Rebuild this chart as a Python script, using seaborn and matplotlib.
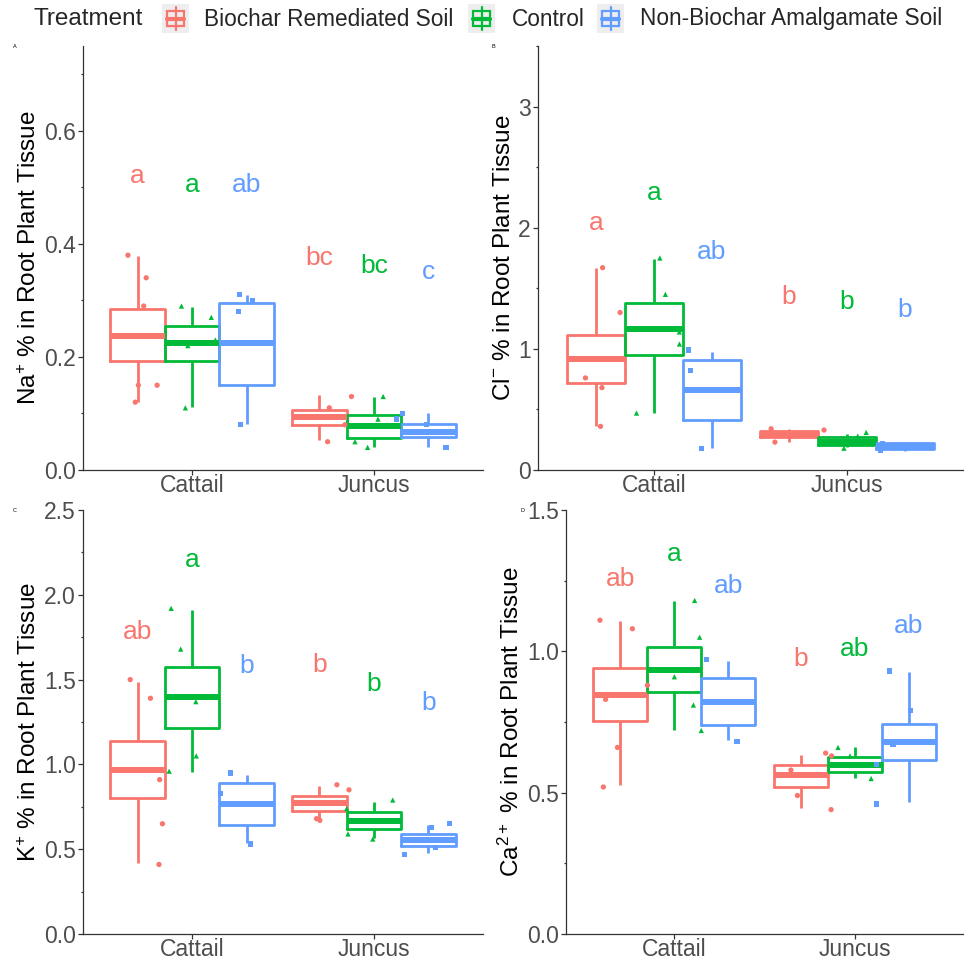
import numpy as np
import pandas as pd
import matplotlib
matplotlib.use("Agg")
import matplotlib.pyplot as plt
from matplotlib.patches import Rectangle
from matplotlib.lines import Line2D
from matplotlib.ticker import FormatStrFormatter, MultipleLocator
import seaborn as sns

# ---------------------------------------------------------------- data
species = ["Cattail", "Juncus"]
treatments = ["Biochar Remediated Soil", "Control", "Non-Biochar Amalgamate Soil"]
palette = ["#F8766D", "#00BA38", "#619CFF"]
markers = ["o", "^", "s"]

# Box summaries per treatment: lower whisker, Q1, median, Q3, upper whisker
na_box = {
    "Cattail": [[0.121, 0.192, 0.237, 0.285, 0.379],
                [0.111, 0.193, 0.224, 0.255, 0.288],
                [0.081, 0.150, 0.224, 0.296, 0.310]],
    "Juncus":  [[0.053, 0.080, 0.094, 0.107, 0.133],
                [0.041, 0.056, 0.077, 0.098, 0.129],
                [0.041, 0.059, 0.068, 0.081, 0.100]],
}
cl_box = {
    "Cattail": [[0.363, 0.716, 0.914, 1.112, 1.666],
                [0.468, 0.950, 1.162, 1.376, 1.740],
                [0.179, 0.413, 0.661, 0.908, 0.977]],
    "Juncus":  [[0.234, 0.275, 0.300, 0.325, 0.340],
                [0.190, 0.210, 0.235, 0.270, 0.300],
                [0.160, 0.175, 0.200, 0.220, 0.230]],
}
k_box = {
    "Cattail": [[0.417, 0.800, 0.967, 1.138, 1.488],
                [0.957, 1.212, 1.395, 1.576, 1.910],
                [0.535, 0.643, 0.767, 0.892, 0.937]],
    "Juncus":  [[0.672, 0.725, 0.770, 0.814, 0.875],
                [0.564, 0.617, 0.666, 0.721, 0.780],
                [0.476, 0.519, 0.554, 0.588, 0.643]],
}
ca_box = {
    "Cattail": [[0.526, 0.755, 0.847, 0.941, 1.108],
                [0.722, 0.855, 0.935, 1.017, 1.179],
                [0.685, 0.738, 0.820, 0.905, 0.967]],
    "Juncus":  [[0.444, 0.520, 0.561, 0.599, 0.635],
                [0.553, 0.573, 0.599, 0.626, 0.661],
                [0.467, 0.614, 0.679, 0.744, 0.926]],
}

# Individual samples
na_pts = {
    "Cattail": [[0.38, 0.34, 0.29, 0.15, 0.15, 0.12],
                [0.29, 0.27, 0.23, 0.22, 0.11],
                [0.31, 0.30, 0.28, 0.08]],
    "Juncus":  [[0.13, 0.11, 0.08, 0.05],
                [0.13, 0.09, 0.05, 0.04],
                [0.10, 0.09, 0.08, 0.04, 0.04]],
}
cl_pts = {
    "Cattail": [[1.67, 1.30, 0.76, 0.68, 0.36],
                [1.75, 1.45, 1.14, 1.04, 0.47],
                [0.99, 0.82, 0.18]],
    "Juncus":  [[0.34, 0.33, 0.29, 0.23],
                [0.31, 0.28, 0.22, 0.18],
                [0.22, 0.19, 0.16]],
}
k_pts = {
    "Cattail": [[1.50, 1.39, 0.91, 0.65, 0.41],
                [1.92, 1.68, 1.37, 1.05, 0.96],
                [0.95, 0.83, 0.53]],
    "Juncus":  [[0.88, 0.85, 0.68, 0.67],
                [0.79, 0.74, 0.59, 0.56],
                [0.65, 0.63, 0.51, 0.47]],
}
ca_pts = {
    "Cattail": [[1.11, 1.08, 0.88, 0.83, 0.66, 0.52],
                [1.18, 1.05, 0.91, 0.81, 0.72],
                [0.97, 0.68]],
    "Juncus":  [[0.64, 0.63, 0.58, 0.49, 0.44],
                [0.66, 0.63, 0.55],
                [0.93, 0.79, 0.67, 0.60, 0.46]],
}

# Compact letter display (Tukey groups) and label heights
na_letters = {"Cattail": ["a", "a", "ab"], "Juncus": ["bc", "bc", "c"]}
na_letter_y = {"Cattail": [0.52, 0.505, 0.505], "Juncus": [0.375, 0.36, 0.35]}
cl_letters = {"Cattail": ["a", "a", "ab"], "Juncus": ["b", "b", "b"]}
cl_letter_y = {"Cattail": [2.04, 2.29, 1.80], "Juncus": [1.43, 1.39, 1.32]}
k_letters = {"Cattail": ["ab", "a", "b"], "Juncus": ["b", "b", "b"]}
k_letter_y = {"Cattail": [1.78, 2.205, 1.58], "Juncus": [1.586, 1.474, 1.362]}
ca_letters = {"Cattail": ["ab", "a", "ab"], "Juncus": ["b", "ab", "ab"]}
ca_letter_y = {"Cattail": [1.257, 1.345, 1.232], "Juncus": [0.974, 1.01, 1.09]}

# ---------------------------------------------------------------- style
sns.set_style("ticks")
plt.rcParams["font.family"] = ["Liberation Sans", "DejaVu Sans"]
plt.rcParams["mathtext.default"] = "regular"

TICK_GREY = "#4D4D4D"
LINE_GREY = "#333333"

W, H = 964, 960
fig = plt.figure(figsize=(W / 100, H / 100), dpi=100)


def long_frame(table):
    rows = [(sp, tr, v)
            for sp in species
            for i, tr in enumerate(treatments)
            for v in table[sp][i]]
    return pd.DataFrame(rows, columns=["Species", "Treatment", "value"])


def draw_panel(rect, box, pts, letters, letter_y, ylabel, top, major, minor, fmt, tag):
    ax = fig.add_axes(rect)
    df_box = long_frame(box)
    df_pts = long_frame(pts)

    sns.boxplot(data=df_box, x="Species", y="value", hue="Treatment",
                order=species, hue_order=treatments, palette=palette,
                fill=False, width=0.9, gap=0, linewidth=2.0,
                whis=(0, 100), showfliers=False, showcaps=False,
                medianprops=dict(linewidth=4.3), legend=False, ax=ax)

    for i, tr in enumerate(treatments):
        sub = df_pts[df_pts["Treatment"] == tr]
        sns.stripplot(data=sub, x="Species", y="value", hue="Treatment",
                      order=species, hue_order=treatments, palette=palette,
                      dodge=True, jitter=0.45, marker=markers[i], size=3.8,
                      linewidth=0, legend=False, zorder=5, ax=ax)

    for j, sp in enumerate(species):
        for i in range(len(treatments)):
            ax.text(j + (i - 1) * 0.3, letter_y[sp][i], letters[sp][i],
                    color=palette[i], fontsize=19, ha="center", va="center")

    ax.set_xlim(-0.6, 1.6)
    ax.set_ylim(0, top)
    ax.yaxis.set_major_locator(MultipleLocator(major))
    ax.yaxis.set_minor_locator(MultipleLocator(minor))
    ax.yaxis.set_major_formatter(FormatStrFormatter(fmt))
    ax.set_xlabel("")
    ax.set_ylabel(ylabel, fontsize=17.5, color="black", labelpad=2)
    sns.despine(ax=ax)
    for side in ("left", "bottom"):
        ax.spines[side].set_color(LINE_GREY)
        ax.spines[side].set_linewidth(0.9)
    ax.tick_params(axis="both", which="major", length=3.6, width=0.9,
                   color=LINE_GREY, labelcolor=TICK_GREY, labelsize=16.5)
    ax.tick_params(axis="y", which="major", pad=1.5)
    ax.tick_params(axis="x", which="major", pad=-1.0)
    ax.tick_params(axis="y", which="minor", length=1.2, width=0.9, color=LINE_GREY)
    ax.set_facecolor("white")
    fig.text(rect[0] - 70 / W if tag in "AC" else rect[0] - 46 / W,
             rect[1] + rect[3], tag, fontsize=4, color="black",
             ha="left", va="center")
    return ax


draw_panel([83 / W, 1 - 470 / H, 400 / W, 424 / H], na_box, na_pts, na_letters,
           na_letter_y, r"Na$^{+}$ % in Root Plant Tissue", 0.75, 0.2, 0.1, "%.1f", "A")
draw_panel([538 / W, 1 - 470 / H, 425 / W, 424 / H], cl_box, cl_pts, cl_letters,
           cl_letter_y, r"Cl$^{-}$ % in Root Plant Tissue", 3.5, 1.0, 0.5, "%.0f", "B")
draw_panel([83 / W, 1 - 934 / H, 400 / W, 424 / H], k_box, k_pts, k_letters,
           k_letter_y, r"K$^{+}$ % in Root Plant Tissue", 2.5, 0.5, 0.25, "%.1f", "C")
draw_panel([566 / W, 1 - 934 / H, 397 / W, 424 / H], ca_box, ca_pts, ca_letters,
           ca_letter_y, r"Ca$^{2+}$ % in Root Plant Tissue", 1.5, 0.5, 0.25, "%.1f", "D")

# ---------------------------------------------------------------- legend
def fx(px):
    return px / W


def fy(py):
    return 1 - py / H


def legend_key(x0, color, kw=27, y0=4, kh=29):
    fig.patches.append(Rectangle((fx(x0), fy(y0 + kh)), kw / W, kh / H,
                                 transform=fig.transFigure, facecolor="#EEEEEE",
                                 edgecolor="none"))
    cx = x0 + kw / 2
    bw = kw * 0.62
    fig.lines.append(Line2D([fx(cx), fx(cx)], [fy(y0 + kh * 0.1), fy(y0 + kh * 0.9)],
                            transform=fig.transFigure, color=color, lw=1.6))
    fig.patches.append(Rectangle((fx(cx - bw / 2), fy(y0 + kh * 0.75)), bw / W,
                                 kh * 0.5 / H, transform=fig.transFigure,
                                 facecolor="#EEEEEE", edgecolor=color, lw=1.6))
    fig.lines.append(Line2D([fx(cx - bw / 2), fx(cx + bw / 2)],
                            [fy(y0 + kh * 0.5), fy(y0 + kh * 0.5)],
                            transform=fig.transFigure, color=color, lw=3.0))


fig.text(fx(33), fy(19), "Treatment", fontsize=17.5, ha="left", va="center")
key_x = [162, 468, 597]
label_x = [204, 512, 640]
for i, tr in enumerate(treatments):
    legend_key(key_x[i], palette[i])
    fig.text(fx(label_x[i]), fy(19), tr, fontsize=16.3, ha="left", va="center")

fig.savefig("out.png", dpi=100, facecolor="white")
